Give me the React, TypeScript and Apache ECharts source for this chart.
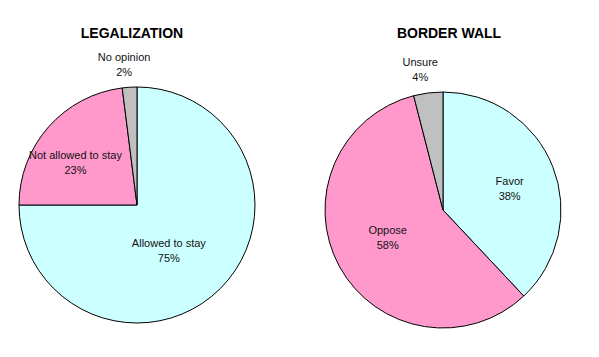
import React, { useEffect, useRef } from "react";
import * as echarts from "echarts";

const legalCategories = ["Allowed to stay", "Not allowed to stay", "No opinion"];
const legalValues = [75, 23, 2];
const wallCategories = ["Favor", "Oppose", "Unsure"];
const wallValues = [38, 58, 4];
const titles = ["LEGALIZATION", "BORDER WALL"];

const sliceColors = ["#CCFFFF", "#FF99CC", "#C0C0C0"];
const legalOffsets = [[-12, 2], [-15, -1.5], [-9, -79]];
const wallOffsets = [[9, 1], [-1, -2], [-15, -79]];

const FONT = "'Liberation Sans', Arial, sans-serif";

function makePie(cats: string[], vals: number[], center: number[], offsets: number[][]) {
  return {
    type: "pie",
    center,
    radius: 118,
    startAngle: 90,
    clockwise: true,
    silent: true,
    avoidLabelOverlap: false,
    itemStyle: { borderColor: "#000", borderWidth: 1 },
    label: {
      show: true,
      position: "inside",
      formatter: "{b}\n{c}%",
      color: "#111",
      fontFamily: FONT,
      fontSize: 11,
      lineHeight: 15,
      align: "center",
    },
    labelLine: { show: false },
    labelLayout: (p: any) => ({ dx: offsets[p.dataIndex][0], dy: offsets[p.dataIndex][1] }),
    data: cats.map((name, i) => ({ name, value: vals[i], itemStyle: { color: sliceColors[i] } })),
  };
}

export default function App() {
  const ref = useRef<HTMLDivElement>(null);
  useEffect(() => {
    if (!ref.current) return;
    const chart = echarts.init(ref.current, null, { renderer: "svg" });
    chart.setOption({
      animation: false,
      backgroundColor: "#fff",
      graphic: [
        {
          type: "text",
          x: 132,
          y: 33,
          style: { text: titles[0], font: `bold 14px ${FONT}`, fill: "#000", align: "center", verticalAlign: "middle" },
        },
        {
          type: "text",
          x: 449,
          y: 33,
          style: { text: titles[1], font: `bold 14px ${FONT}`, fill: "#000", align: "center", verticalAlign: "middle" },
        },
      ],
      series: [
        makePie(legalCategories, legalValues, [137, 205], legalOffsets),
        makePie(wallCategories, wallValues, [443, 210], wallOffsets),
      ],
    });
    return () => chart.dispose();
  }, []);
  return <div ref={ref} style={{ position: "fixed", left: 0, top: 0, width: 599, height: 357 }} />;
}
